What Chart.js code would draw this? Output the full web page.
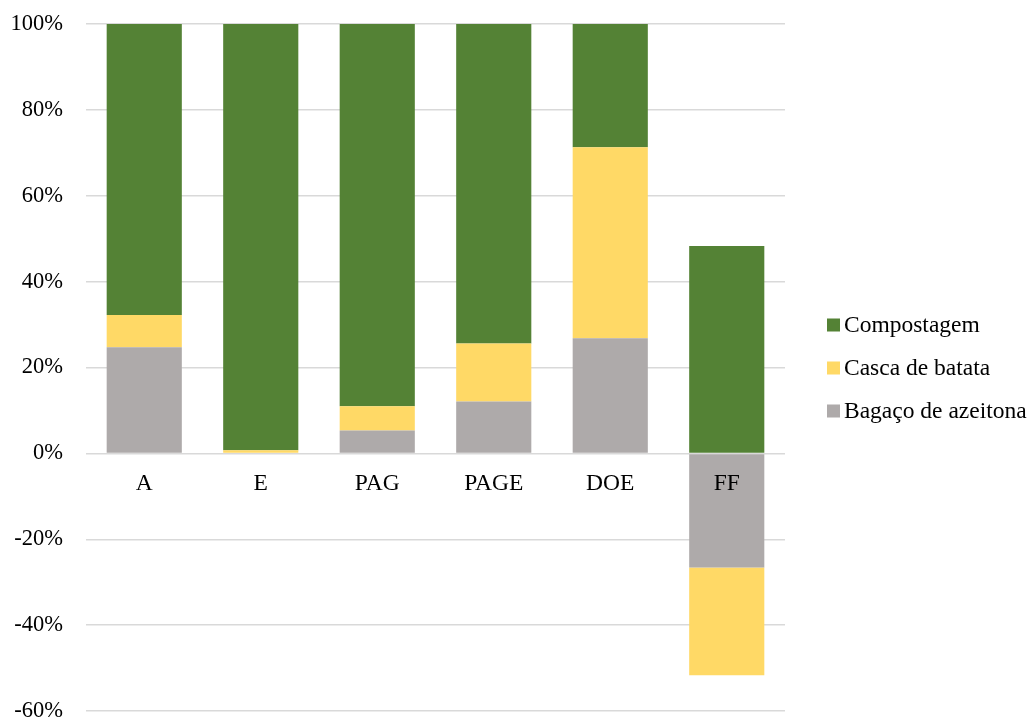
<!DOCTYPE html>
<html>
<head>
<meta charset="utf-8">
<script src="https://cdn.jsdelivr.net/npm/chart.js@4/dist/chart.umd.min.js"></script>
<style>
  html,body{margin:0;padding:0;background:#fff;}
  #wrap{width:1033px;height:718px;position:relative;}
</style>
</head>
<body>
<div id="wrap"><canvas id="chart"></canvas></div>
<script>
// ===== 数据 =====
const categories = ["A", "E", "PAG", "PAGE", "DOE", "FF"];
const bagacoAzeitona = [24.7, 0, 5.3, 12.1, 26.8, -26.6];
const cascaBatata   = [7.5, 0.7, 5.7, 13.5, 44.5, -25.1];
const compostagem   = [67.8, 99.3, 89.0, 74.4, 28.7, 48.3];
const yTicks = [-60, -40, -20, 0, 20, 40, 60, 80, 100];

const FONT = "'Liberation Serif', 'Times New Roman', serif";
const GRID = "#d9d9d9";

function ds(label, data, color){
  return { label, data, backgroundColor: color, borderWidth: 0,
           barPercentage: 0.645, categoryPercentage: 1 };
}

// ===== 右侧图例（与绘图区留出间距） =====
const sideLegend = {
  id: "sideLegend",
  afterDraw(chart){
    const {ctx, chartArea} = chart;
    const items = chart.data.datasets.slice().reverse();
    const x0 = chartArea.right + 42;
    const yc = chart.height/2 + 9;
    ctx.save();
    ctx.font = `23.5px ${FONT}`;
    ctx.textBaseline = "middle";
    ctx.textAlign = "left";
    items.forEach((d, i) => {
      const y = yc + (i - (items.length-1)/2) * 43;
      ctx.fillStyle = d.backgroundColor;
      ctx.fillRect(x0, y - 6.5, 13, 13);
      ctx.fillStyle = "#000";
      ctx.fillText(d.label, x0 + 17, y + 1);
    });
    ctx.restore();
  }
};

new Chart(document.getElementById("chart"), {
  type: "bar",
  data: {
    labels: categories,
    datasets: [
      ds("Bagaço de azeitona", bagacoAzeitona, "#AEAAAA"),
      ds("Casca de batata", cascaBatata, "#FFD966"),
      ds("Compostagem", compostagem, "#548235")
    ]
  },
  options: {
    responsive: true, maintainAspectRatio: false, animation: false,
    layout: { padding: { top: 24, bottom: 7, left: 0, right: 248 } },
    scales: {
      x: {
        stacked: true,
        position: { y: 0 },
        grid: { display: false, drawTicks: false },
        border: { display: false },
        ticks: { z: 1, color: "#000", font: { family: FONT, size: 23.5 }, padding: 16, maxRotation: 0 }
      },
      y: {
        stacked: true,
        min: -60, max: 100,
        afterBuildTicks(s){ s.ticks = yTicks.map(v => ({ value: v })); },
        afterFit(s){ s.width = 86; s.paddingTop = 0; s.paddingBottom = 0; },
        grid: { color: GRID, lineWidth: 1.5, drawTicks: false },
        border: { display: false },
        ticks: { color: "#000", font: { family: FONT, size: 22.5 }, padding: 23,
                 callback: v => v + "%" }
      }
    },
    plugins: {
      legend: { display: false },
      tooltip: { enabled: false }
    }
  },
  plugins: [sideLegend]
});
</script>
</body>
</html>
